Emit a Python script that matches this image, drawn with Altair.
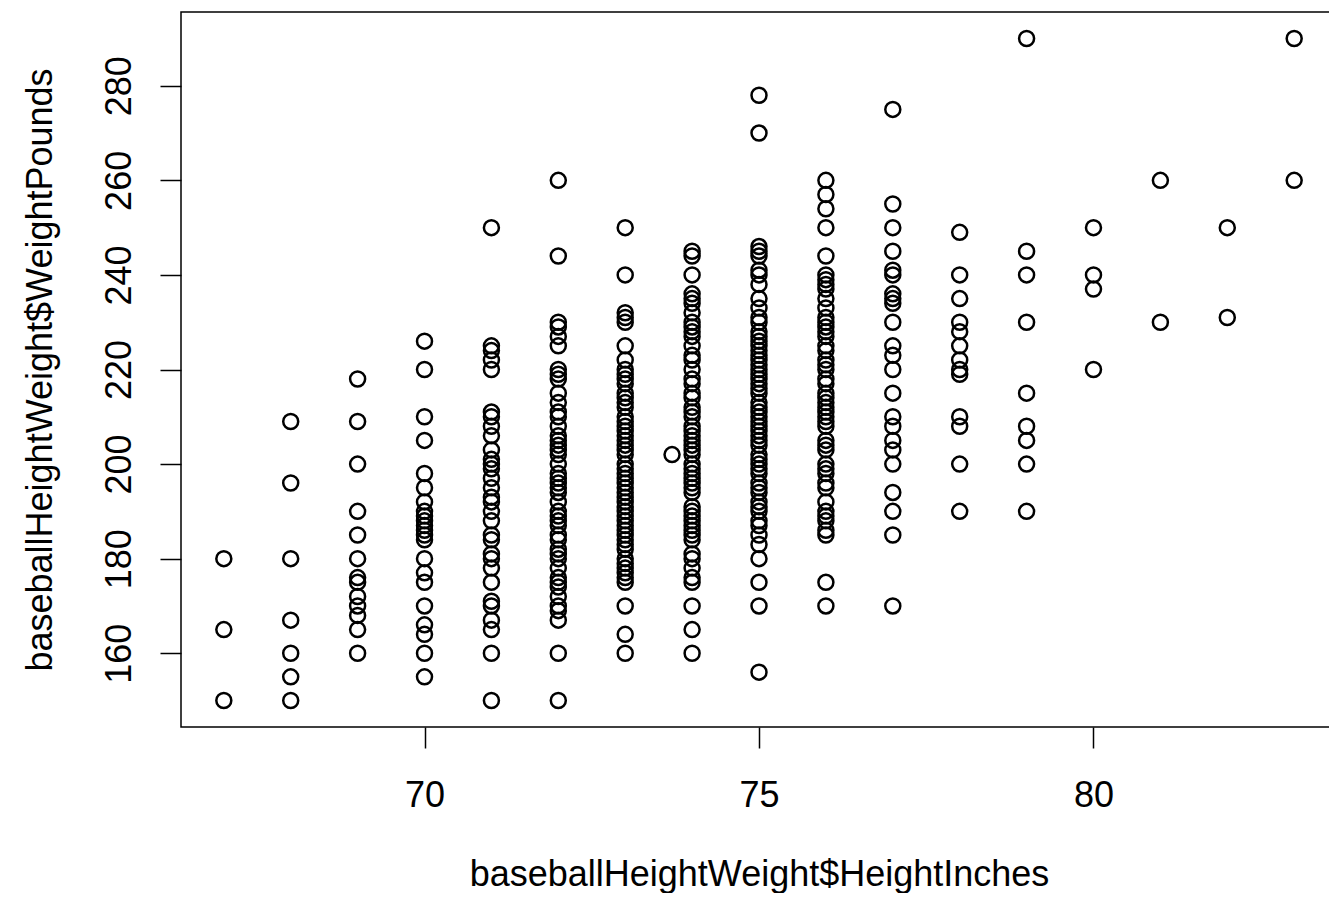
import altair as alt
import pandas as pd

w67 = [180, 165, 150]
w68 = [209, 196, 180, 167, 160, 155, 150]
w69 = [218, 209, 200, 190, 185, 180, 176, 175, 172, 170, 168, 165, 160]
w70 = [226, 220, 210, 205, 198, 195, 192, 190, 189, 188, 187, 186, 185, 184,
       180, 177, 175, 170, 166, 164, 160, 155]
w71 = [250, 225, 224, 222, 220, 211, 210, 208, 206, 203, 201, 200, 199, 197,
       195, 193, 192, 190, 188, 185, 184, 181, 180, 178, 175, 171, 170, 167,
       165, 160, 150]
w72 = [260, 244, 230, 229, 227, 225, 220, 219, 218, 215, 213, 211, 210, 208,
       206, 205, 204, 203, 202, 200, 198, 197, 196, 195, 194, 192, 190, 189,
       188, 187, 185, 184, 182, 181, 180, 178, 176, 175, 174, 172, 170, 169,
       167, 160, 150]
w73 = [250, 240, 232, 231, 230, 225, 222, 220, 219, 218, 217, 215, 214, 213,
       212, 210, 209, 208, 207, 206, 205, 204, 203, 202, 200, 199, 198, 197,
       196, 195, 194, 193, 192, 191, 190, 189, 188, 187, 186, 185, 184, 183,
       182, 180, 179, 178, 177, 176, 175, 170, 164, 160]
w73_7 = [202]
w74 = [245, 244, 240, 236, 235, 234, 232, 230, 229, 228, 227, 225, 223, 222,
       220, 218, 217, 215, 214, 212, 211, 210, 208, 207, 206, 205, 204, 203,
       202, 200, 199, 198, 197, 196, 195, 194, 191, 190, 189, 188, 187, 186,
       185, 184, 181, 180, 178, 176, 175, 170, 165, 160]
w75 = [278, 270, 246, 245, 244, 241, 240, 238, 235, 233, 231, 230, 228, 227,
       226, 225, 224, 223, 222, 221, 220, 219, 218, 217, 216, 215, 213, 212,
       211, 210, 209, 208, 207, 206, 205, 204, 202, 201, 200, 199, 198, 196,
       195, 194, 192, 191, 190, 188, 187, 185, 183, 180, 175, 170, 156]
w76 = [260, 257, 254, 250, 244, 240, 239, 238, 237, 235, 233, 231, 230, 229,
       228, 227, 225, 224, 222, 221, 220, 218, 217, 215, 214, 213, 212, 211,
       210, 209, 208, 205, 204, 203, 200, 199, 198, 196, 195, 192, 190, 189,
       188, 186, 185, 175, 170]
w77 = [275, 255, 250, 245, 241, 240, 236, 235, 234, 230, 225, 223, 220, 215,
       210, 208, 205, 203, 200, 194, 190, 185, 170]
w78 = [249, 240, 235, 230, 228, 225, 222, 220, 219, 210, 208, 200, 190]
w79 = [290, 245, 240, 230, 215, 208, 205, 200, 190]
w80 = [250, 240, 237, 220]
w81 = [260, 230]
w82 = [250, 231]
w83 = [290, 260]

heights = [67, 68, 69, 70, 71, 72, 73, 73.7, 74, 75, 76, 77, 78, 79, 80, 81, 82, 83]
weights = [w67, w68, w69, w70, w71, w72, w73, w73_7, w74, w75, w76, w77, w78,
           w79, w80, w81, w82, w83]

rows = []
for h, ws in zip(heights, weights):
    for w in ws:
        rows.append({"HeightInches": h, "WeightPounds": w})
df = pd.DataFrame(rows)

x_ticks = [70, 75, 80]
y_ticks = [160, 180, 200, 220, 240, 260, 280]

FONT = "Liberation Sans"
FS = 36
W, H = 1156, 715

x_axis = alt.Axis(
    values=x_ticks, grid=False, domain=False,
    ticks=True, tickSize=21, tickWidth=1.5, tickColor="black",
    labelFont=FONT, labelFontSize=FS, labelColor="black",
    labelPadding=47, labelBaseline="middle", labelFlush=False,
    title="baseballHeightWeight$HeightInches",
    titleFont=FONT, titleFontSize=FS, titleFontWeight="normal",
    titleColor="black", titleX=W / 2, titleY=158,
    titleBaseline="alphabetic", titleAlign="center",
)
y_axis = alt.Axis(
    values=y_ticks, grid=False, domain=False,
    ticks=True, tickSize=21, tickWidth=1.5, tickColor="black",
    labelFont=FONT, labelFontSize=FS, labelColor="black",
    labelAngle=270, labelAlign="center", labelBaseline="middle",
    labelPadding=41, labelFlush=False,
    title="baseballHeightWeight$WeightPounds",
    titleFont=FONT, titleFontSize=FS, titleFontWeight="normal",
    titleColor="black", titleAngle=270, titleX=-141, titleY=H / 2,
    titleBaseline="middle", titleAlign="center",
)

chart = alt.Chart(df).mark_point(
    shape="circle", filled=False, color="black", strokeWidth=2.5,
    size=225, opacity=1,
).encode(
    x=alt.X("HeightInches:Q",
            scale=alt.Scale(domain=[66.36, 83.64], nice=False, zero=False),
            axis=x_axis),
    y=alt.Y("WeightPounds:Q",
            scale=alt.Scale(domain=[144.4, 295.6], nice=False, zero=False),
            axis=y_axis),
).properties(
    width=W, height=H,
    autosize=alt.AutoSizeParams(type="none"),
    padding={"left": 173, "top": 4, "right": -8, "bottom": 166},
    background="white",
).configure_view(stroke="black", strokeWidth=1.5)

chart.save("out.html", embed_options={"renderer": "svg", "actions": False})
